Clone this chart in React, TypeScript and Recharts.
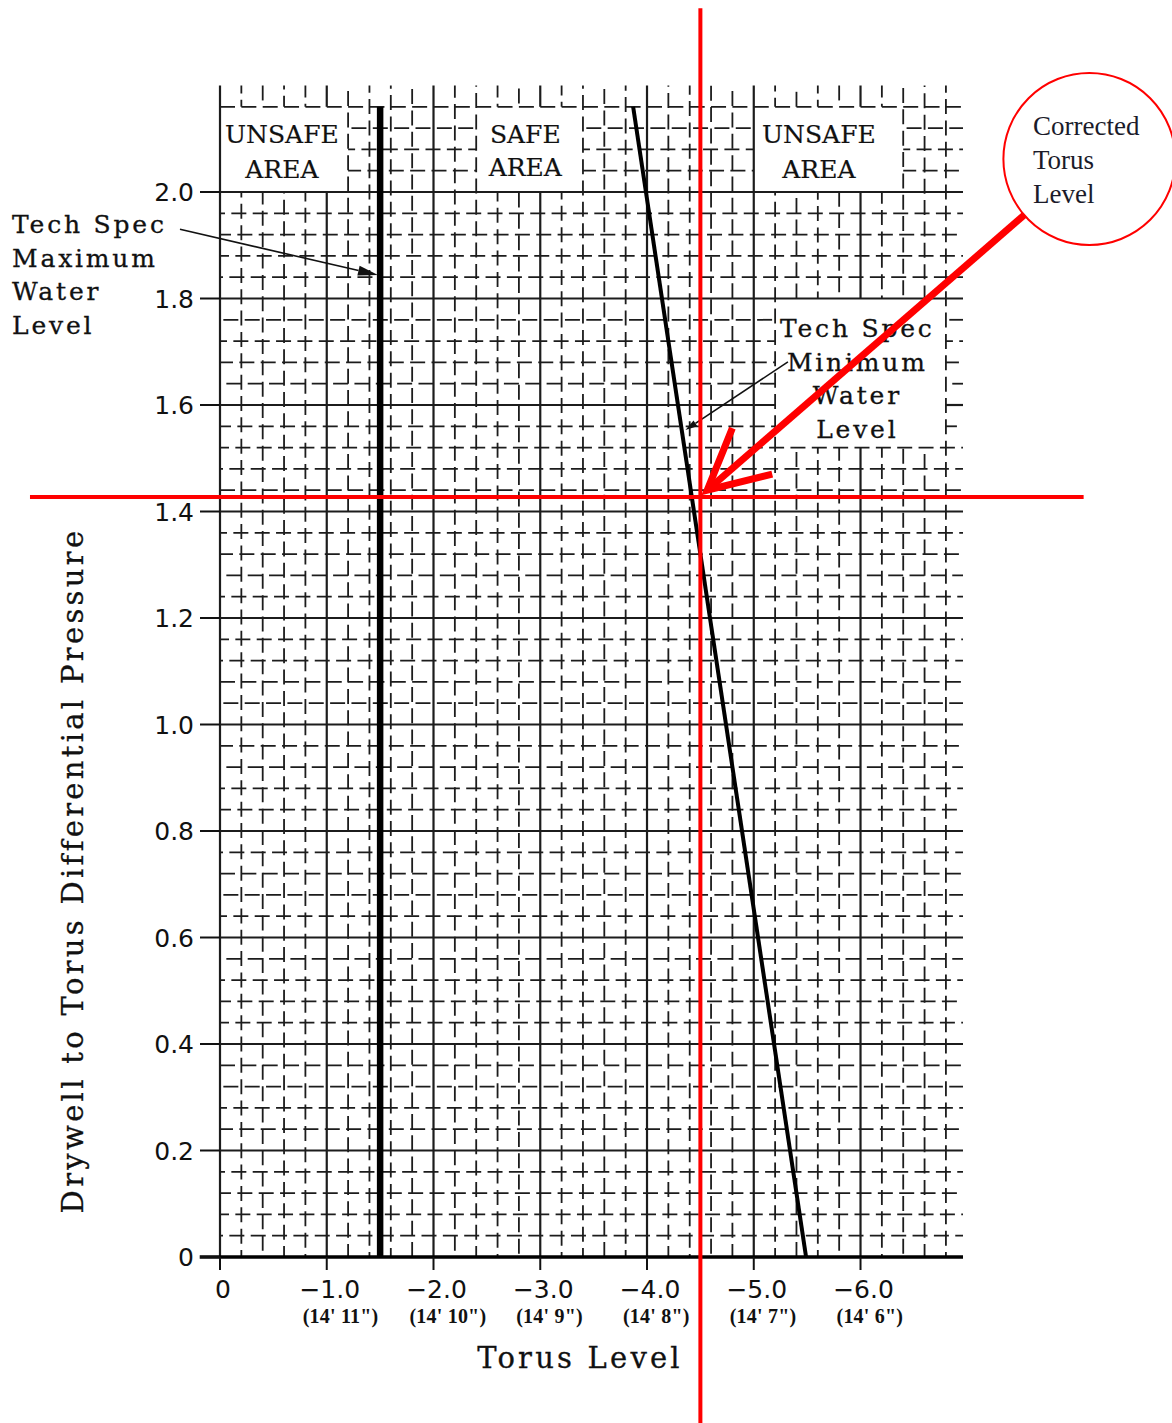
import React from 'react';
import { ComposedChart, XAxis, YAxis, Line, ReferenceLine, ReferenceDot } from 'recharts';

// ---------------- data ----------------
const xTickValues = [0, -1, -2, -3, -4, -5, -6];
const xTickLabels = ['0', '\u22121.0', '\u22122.0', '\u22123.0', '\u22124.0', '\u22125.0', '\u22126.0'];
const xTickSubLabels = ['', "(14'  11\")", "(14'  10\")", "(14'  9\")", "(14'  8\")", "(14'  7\")", "(14'  6\")"];
const yTickValues = [0, 0.2, 0.4, 0.6, 0.8, 1.0, 1.2, 1.4, 1.6, 1.8, 2.0];
const yTickLabels = ['0', '0.2', '0.4', '0.6', '0.8', '1.0', '1.2', '1.4', '1.6', '1.8', '2.0'];

const xDomain = [-6.96, 0];
const yDomain = [0, 2.2];

// Tech Spec maximum water level (vertical thick line)
const maxWaterLevelLine = [
  { x: -1.5, y: 0 },
  { x: -1.5, y: 2.16 },
];
// Tech Spec minimum water level (sloped line)
const minWaterLevelLine = [
  { x: -5.49, y: 0 },
  { x: -3.87, y: 2.16 },
];

// label areas that blank the grid
const blankAreas = [
  { x1: 0, x2: -1.2, y1: 2.0, y2: 2.16 },
  { x1: -2.4, x2: -3.4, y1: 2.0, y2: 2.16 },
  { x1: -5.0, x2: -6.4, y1: 2.0, y2: 2.16 },
  { x1: -5.2, x2: -6.8, y1: 1.52, y2: 1.8 },
];

// annotation anchors (data coordinates)
const unsafeLeftAnchor = { x: -0.58, y: 2.092 };
const safeAnchor = { x: -2.86, y: 2.092 };
const unsafeRightAnchor = { x: -5.61, y: 2.092 };
const maxTextAnchor = { x: 1.948, y: 1.923 };
const minTextAnchor = { x: -5.97, y: 1.728 };
const circleCenter = { x: -8.144, y: 2.062 };
const circleTextAnchor = { x: -7.616, y: 2.107 };

const maxLeader = [
  { x: 0.375, y: 1.93 },
  { x: -1.48, y: 1.844 },
];
const minLeader = [
  { x: -5.32, y: 1.681 },
  { x: -4.36, y: 1.553 },
];
const redArrow = [
  { x: -7.535, y: 1.957 },
  { x: -4.564, y: 1.44 },
];
// corrected torus level crosshair (x = -4.5, y = 1.427)
const redVertical = [
  { x: -4.5, y: -0.312 },
  { x: -4.5, y: 2.345 },
];
const redHorizontal = [
  { x: 1.78, y: 1.427 },
  { x: -8.09, y: 1.427 },
];

// ---------------- grid helpers ----------------
const EPS = 1e-6;
type Seg = [number, number];
function cut(range: Seg, holes: Seg[]): Seg[] {
  let segs: Seg[] = [range];
  for (const [a, b] of holes) {
    const next: Seg[] = [];
    for (const [s, e] of segs) {
      if (b <= s + EPS || a >= e - EPS) {
        next.push([s, e]);
        continue;
      }
      if (a > s + EPS) next.push([s, a]);
      if (b < e - EPS) next.push([b, e]);
    }
    segs = next;
  }
  return segs;
}

const dashOffsets = [0, 8, 15, 4, 12, 18, 2, 10, 6];
const GRID_COLOR = '#1c1c1c';

type GridLine = { key: string; p1: { x: number; y: number }; p2: { x: number; y: number }; major: boolean; offset: number };

function buildGrid(): GridLine[] {
  const lines: GridLine[] = [];
  for (let i = 0; i <= 34; i++) {
    const x = -Math.round(i * 20) / 100;
    const holes: Seg[] = blankAreas
      .filter((b) => x < Math.max(b.x1, b.x2) - EPS && x > Math.min(b.x1, b.x2) + EPS)
      .map((b) => [b.y1, b.y2] as Seg)
      .sort((a, b) => a[0] - b[0]);
    const segs = cut([0, 2.2], holes);
    segs.forEach((s, k) =>
      lines.push({
        key: `v${i}-${k}`,
        p1: { x, y: s[0] },
        p2: { x, y: s[1] },
        major: i % 5 === 0,
        offset: dashOffsets[i % dashOffsets.length],
      })
    );
  }
  for (let j = 1; j <= 54; j++) {
    const y = Math.round(j * 4) / 100;
    const holes: Seg[] = blankAreas
      .filter((b) => y > Math.min(b.y1, b.y2) + EPS && y < Math.max(b.y1, b.y2) - EPS)
      .map((b) => [Math.min(b.x1, b.x2), Math.max(b.x1, b.x2)] as Seg)
      .sort((a, b) => a[0] - b[0]);
    const segs = cut([xDomain[0], 0], holes);
    segs.forEach((s, k) =>
      lines.push({
        key: `h${j}-${k}`,
        p1: { x: s[1], y },
        p2: { x: s[0], y },
        major: j % 5 === 0,
        offset: dashOffsets[(j * 4) % dashOffsets.length],
      })
    );
  }
  return lines;
}
const gridLines = buildGrid();

// ---------------- render helpers ----------------
const TYPE = "'DejaVu Serif', 'Liberation Serif', serif";
const SANS = "'DejaVu Sans', 'Liberation Sans', sans-serif";

const XTick = (p: any) => {
  const { x, y, payload } = p;
  const i = xTickValues.indexOf(payload.value);
  return (
    <g>
      <text x={x + 3} y={y + 26} textAnchor="middle" fontFamily={SANS} fontSize={25} fill="#111">
        {xTickLabels[i]}
      </text>
      {xTickSubLabels[i] ? (
        <text
          x={x - 24}
          y={y + 51}
          textAnchor="start"
          fontFamily="'Liberation Serif', serif"
          fontWeight="bold"
          fontSize={20}
          letterSpacing={0.2}
          fill="#111"
        >
          {xTickSubLabels[i]}
        </text>
      ) : null}
    </g>
  );
};

const YTick = (p: any) => {
  const { x, y, payload } = p;
  const i = yTickValues.findIndex((v) => Math.abs(v - payload.value) < 1e-6);
  return (
    <text x={x - 4} y={y + 9} textAnchor="end" fontFamily={SANS} fontSize={25} fill="#111">
      {yTickLabels[i]}
    </text>
  );
};

type TB = {
  anchor: 'start' | 'middle' | 'end';
  font: string;
  size: number;
  lh: number;
  fill?: string;
  ls?: number;
  stroke?: number;
};

const textBlock = (lines: string[], o: TB) => (props: any) => {
  const vb = props.viewBox || {};
  const x = (vb.x || 0) + (vb.width || 0) / 2;
  const y = (vb.y || 0) + (vb.height || 0) / 2;
  return (
    <text
      x={x}
      y={y}
      textAnchor={o.anchor}
      fontFamily={o.font}
      fontSize={o.size}
      letterSpacing={o.ls || 0}
      fill={o.fill || '#111'}
      stroke={o.stroke ? o.fill || '#111' : 'none'}
      strokeWidth={o.stroke || 0}
    >
      {lines.map((l, k) => (
        <tspan key={k} x={x} dy={k === 0 ? 0 : o.lh}>
          {l}
        </tspan>
      ))}
    </text>
  );
};

const filledArrow = (len: number, half: number, width: number) => (p: any) => {
  const { x1, y1, x2, y2 } = p;
  const a = Math.atan2(y2 - y1, x2 - x1);
  const bx = x2 - len * Math.cos(a);
  const by = y2 - len * Math.sin(a);
  const nx = -Math.sin(a) * half;
  const ny = Math.cos(a) * half;
  return (
    <g>
      <line x1={x1} y1={y1} x2={bx} y2={by} stroke="#111" strokeWidth={width} />
      <polygon points={`${x2},${y2} ${bx + nx},${by + ny} ${bx - nx},${by - ny}`} fill="#111" />
    </g>
  );
};

const redArrowShape = (p: any) => {
  const { x1, y1, x2, y2 } = p;
  const a = Math.atan2(y1 - y2, x1 - x2);
  const th = (27 * Math.PI) / 180;
  const L = 67;
  const b1x = x2 + L * Math.cos(a - th);
  const b1y = y2 + L * Math.sin(a - th);
  const b2x = x2 + L * Math.cos(a + th);
  const b2y = y2 + L * Math.sin(a + th);
  return (
    <g>
      <line x1={x1} y1={y1} x2={x2 + 4 * Math.cos(a)} y2={y2 + 4 * Math.sin(a)} stroke="#ff0000" strokeWidth={7} />
      <polyline
        points={`${b1x},${b1y} ${x2},${y2} ${b2x},${b2y}`}
        fill="none"
        stroke="#ff0000"
        strokeWidth={7}
        strokeLinejoin="miter"
        strokeMiterlimit={10}
      />
    </g>
  );
};

const xTitle = (props: any) => {
  const vb = props.viewBox || {};
  return (
    <text
      x={vb.x + 360}
      y={vb.y + 111}
      textAnchor="middle"
      fontFamily={TYPE}
      fontSize={29}
      letterSpacing={3.2}
      fill="#111"
      stroke="#111"
      strokeWidth={0.3}
    >
      Torus Level
    </text>
  );
};

const yTitle = (props: any) => {
  const vb = props.viewBox || {};
  const x = vb.x + 83;
  const y = vb.y + 785;
  return (
    <text
      x={x}
      y={y}
      transform={`rotate(-90, ${x}, ${y})`}
      textAnchor="middle"
      fontFamily={TYPE}
      fontSize={29}
      letterSpacing={3.3}
      fill="#111"
      stroke="#111"
      strokeWidth={0.3}
    >
      Drywell to Torus Differential Pressure
    </text>
  );
};

export default function App() {
  return (
    <div style={{ position: 'absolute', left: 0, top: 0, width: 1172, height: 1423, background: '#fff' }}>
      <ComposedChart width={1172} height={1423} margin={{ top: 85.5, right: 209, bottom: 66, left: 0 }}>
        <XAxis
          type="number"
          dataKey="x"
          domain={xDomain}
          allowDataOverflow
          reversed
          ticks={xTickValues}
          interval={0}
          height={100}
          tickSize={13}
          tickMargin={2}
          axisLine={false}
          tickLine={{ stroke: '#111', strokeWidth: 2 }}
          tick={<XTick />}
          label={xTitle}
        />
        <YAxis
          type="number"
          dataKey="y"
          domain={yDomain}
          allowDataOverflow
          ticks={yTickValues}
          interval={0}
          width={220}
          tickSize={20}
          tickMargin={2}
          axisLine={false}
          tickLine={{ stroke: '#111', strokeWidth: 2 }}
          tick={<YTick />}
          label={yTitle}
        />

        {gridLines.map((g) => (
          <ReferenceLine
            key={g.key}
            segment={[g.p1, g.p2]}
            stroke={GRID_COLOR}
            strokeWidth={g.major ? 2.2 : 1.8}
            strokeDasharray={g.major ? undefined : '15 6.35'}
            strokeDashoffset={g.major ? undefined : g.offset}
            ifOverflow="visible"
            zIndex={50}
          />
        ))}

        {/* x axis baseline */}
        <ReferenceLine
          segment={[{ x: 0.19, y: 0 }, { x: xDomain[0], y: 0 }]}
          stroke="#000"
          strokeWidth={3.5}
          ifOverflow="visible"
          zIndex={60}
        />

        <Line
          data={maxWaterLevelLine}
          dataKey="y"
          stroke="#000"
          strokeWidth={6.5}
          dot={false}
          activeDot={false}
          isAnimationActive={false}
          strokeLinecap="butt"
        />
        <Line
          data={minWaterLevelLine}
          dataKey="y"
          stroke="#000"
          strokeWidth={4}
          dot={false}
          activeDot={false}
          isAnimationActive={false}
        />

        {/* leaders */}
        <ReferenceLine segment={maxLeader} ifOverflow="visible" shape={filledArrow(20, 5, 1.6)} zIndex={450} />
        <ReferenceLine segment={minLeader} ifOverflow="visible" shape={filledArrow(12, 3.5, 1.6)} zIndex={450} />

        {/* red annotations */}
        <ReferenceLine segment={redVertical} stroke="#ff0000" strokeWidth={4} ifOverflow="visible" zIndex={1500} />
        <ReferenceLine segment={redHorizontal} stroke="#ff0000" strokeWidth={4} ifOverflow="visible" zIndex={1500} />
        <ReferenceLine segment={redArrow} ifOverflow="visible" shape={redArrowShape} zIndex={1500} />
        <ReferenceDot
          x={circleCenter.x}
          y={circleCenter.y}
          r={86}
          fill="none"
          stroke="#ff0000"
          strokeWidth={2}
          ifOverflow="visible"
          zIndex={1500}
        />

        {/* texts */}
        <ReferenceDot
          x={unsafeLeftAnchor.x}
          y={unsafeLeftAnchor.y}
          r={0}
          ifOverflow="visible"
          zIndex={1400}
          label={textBlock(['UNSAFE', 'AREA'], { anchor: 'middle', font: TYPE, size: 25, lh: 35, stroke: 0.2 })}
        />
        <ReferenceDot
          x={safeAnchor.x}
          y={safeAnchor.y}
          r={0}
          ifOverflow="visible"
          zIndex={1400}
          label={textBlock(['SAFE', 'AREA'], { anchor: 'middle', font: TYPE, size: 25, lh: 33, stroke: 0.2 })}
        />
        <ReferenceDot
          x={unsafeRightAnchor.x}
          y={unsafeRightAnchor.y}
          r={0}
          ifOverflow="visible"
          zIndex={1400}
          label={textBlock(['UNSAFE', 'AREA'], { anchor: 'middle', font: TYPE, size: 25, lh: 35, stroke: 0.2 })}
        />
        <ReferenceDot
          x={maxTextAnchor.x}
          y={maxTextAnchor.y}
          r={0}
          ifOverflow="visible"
          zIndex={1400}
          label={textBlock(['Tech Spec', 'Maximum', 'Water', 'Level'], {
            anchor: 'start',
            font: TYPE,
            size: 25,
            ls: 2.8,
            lh: 33.5,
            stroke: 0.3,
          })}
        />
        <ReferenceDot
          x={minTextAnchor.x}
          y={minTextAnchor.y}
          r={0}
          ifOverflow="visible"
          zIndex={1400}
          label={textBlock(['Tech Spec', 'Minimum', 'Water', 'Level'], {
            anchor: 'middle',
            font: TYPE,
            size: 25,
            ls: 2.8,
            lh: 33.8,
            stroke: 0.3,
          })}
        />
        <ReferenceDot
          x={circleTextAnchor.x}
          y={circleTextAnchor.y}
          r={0}
          ifOverflow="visible"
          zIndex={1600}
          label={textBlock(['Corrected', 'Torus', 'Level'], {
            anchor: 'start',
            font: "'Liberation Serif', serif",
            size: 27,
            lh: 34,
            fill: '#1b1b2a',
          })}
        />
      </ComposedChart>
    </div>
  );
}
